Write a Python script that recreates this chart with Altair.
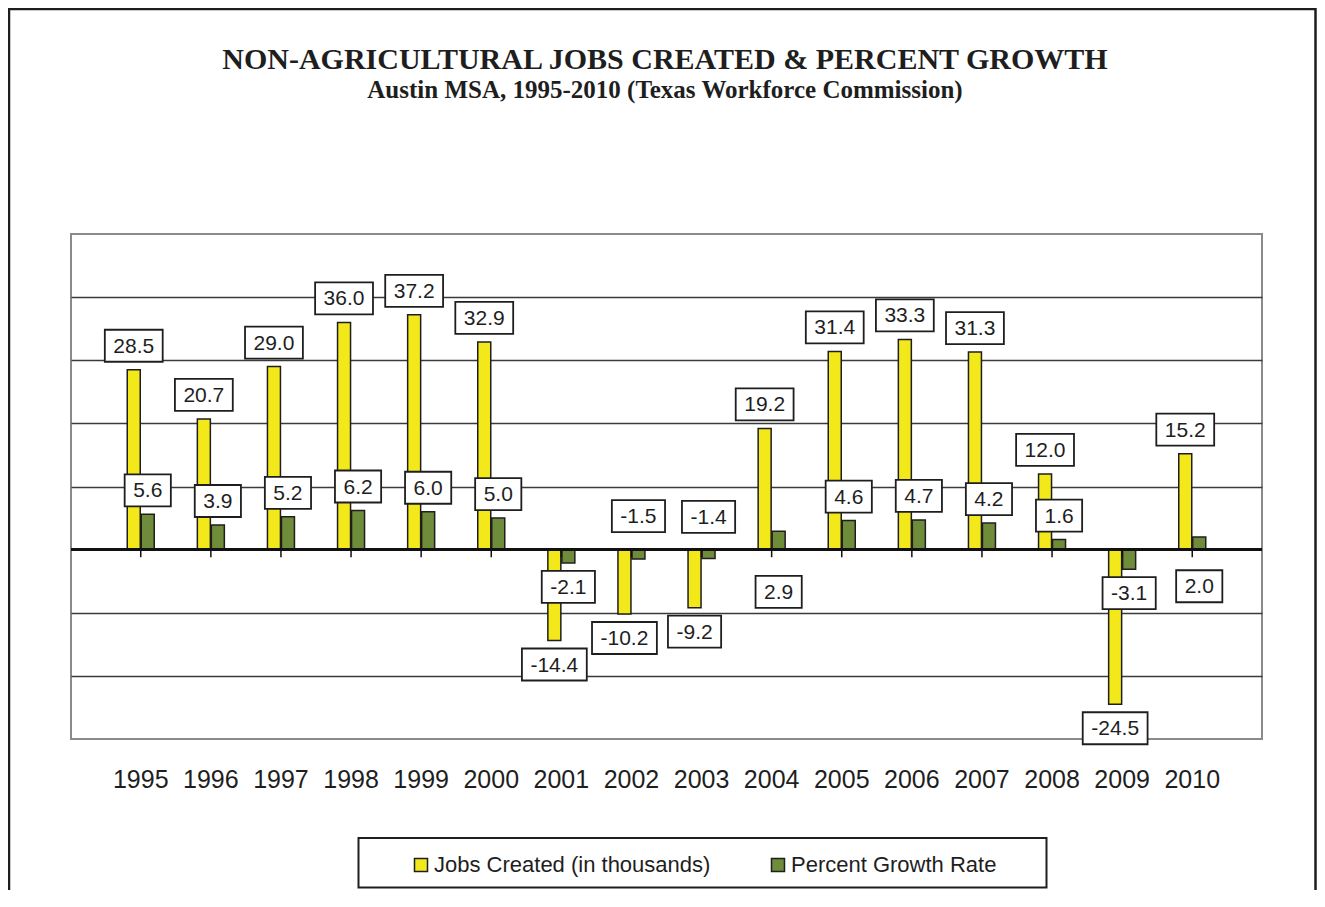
import altair as alt
import pandas as pd

years = ["1995", "1996", "1997", "1998", "1999", "2000", "2001", "2002",
         "2003", "2004", "2005", "2006", "2007", "2008", "2009", "2010"]
jobs_created = [28.5, 20.7, 29.0, 36.0, 37.2, 32.9, -14.4, -10.2,
                -9.2, 19.2, 31.4, 33.3, 31.3, 12.0, -24.5, 15.2]
percent_growth = [5.6, 3.9, 5.2, 6.2, 6.0, 5.0, -2.1, -1.5,
                  -1.4, 2.9, 4.6, 4.7, 4.2, 1.6, -3.1, 2.0]
# which side of the bar the growth label sits on ("flip" = opposite side)
pct_label_side = ["normal", "normal", "normal", "normal", "normal", "normal", "normal", "flip",
                  "flip", "flip", "normal", "normal", "normal", "normal", "normal", "flip"]

JOBS = "Jobs Created (in thousands)"
PCT = "Percent Growth Rate"
title_text = "NON-AGRICULTURAL JOBS CREATED & PERCENT GROWTH"
subtitle_text = "Austin MSA, 1995-2010 (Texas Workforce Commission)"

YELLOW = "#F2E81A"
GREEN = "#6F8C3A"
INK = "#1e1e1e"

bars = pd.DataFrame({"year": years, "jobs": jobs_created, "pct": percent_growth})

labels = pd.concat([
    pd.DataFrame({"year": years, "value": jobs_created, "series": JOBS,
                  "side": ["normal"] * len(years),
                  "label": [f"{v:.1f}" for v in jobs_created]}),
    pd.DataFrame({"year": years, "value": percent_growth, "series": PCT,
                  "side": pct_label_side,
                  "label": [f"{v:.1f}" for v in percent_growth]}),
], ignore_index=True)

xscale = alt.Scale(paddingInner=0, paddingOuter=0.495)
yscale = alt.Scale(domain=[-30, 50], nice=False, zero=False)
xaxis = alt.Axis(title=None, ticks=False, domain=False, labelAngle=0,
                 labelFont="Liberation Sans", labelFontSize=25, labelColor=INK,
                 labelPadding=28, grid=False)
yaxis = alt.Axis(title=None, labels=False, ticks=False, domain=False,
                 values=[-20, -10, 10, 20, 30, 40], grid=True,
                 gridColor="#3a3a3a", gridWidth=1.6)

X = alt.X("year:N", sort=years, scale=xscale, axis=xaxis)
color_scale = alt.Scale(domain=[JOBS, PCT], range=[YELLOW, GREEN])
legend = alt.Legend(title=None, orient="none", direction="horizontal",
                    legendX=339, legendY=620, padding=0,
                    labelFont="Liberation Sans", labelFontSize=22, labelColor=INK,
                    labelLimit=600, labelOffset=2, columnPadding=56,
                    symbolType="square", symbolSize=169,
                    symbolStrokeColor=INK, symbolStrokeWidth=1.5, zindex=2)

base = alt.Chart(bars)

jobs_bars = base.transform_calculate(series=f"'{JOBS}'").mark_bar(
    width=13, xOffset=-7, stroke=INK, strokeWidth=1.5).encode(
    x=X,
    y=alt.Y("jobs:Q", scale=yscale, axis=yaxis),
    color=alt.Color("series:N", scale=color_scale, legend=legend),
)
pct_bars = base.transform_calculate(series=f"'{PCT}'").mark_bar(
    width=13, xOffset=7, stroke=INK, strokeWidth=1.5).encode(
    x=X,
    y=alt.Y("pct:Q", scale=yscale, axis=yaxis),
    color=alt.Color("series:N", scale=color_scale, legend=legend),
)

zero_line = base.mark_rule(color="#111111", strokeWidth=2).encode(y=alt.Y(datum=0))
zero_ticks = base.mark_rule(color="#111111", strokeWidth=1.5).encode(
    x=X, y=alt.Y(datum=0), y2=alt.Y2(datum=-1.2))

lab = alt.Chart(labels).transform_calculate(
    anchor="datum.side == 'flip' ? -datum.value : datum.value",
    ly="datum.anchor >= 0 ? datum.anchor + 3.8 : datum.anchor - 3.8",
    neg="indexof(datum.label, '-') == 0 ? 1 : 0",
    hw="(17 + 21 * (0.556 * (length(datum.label) - 1 - datum.neg) + 0.278 + 0.333 * datum.neg)) / 2",
    box="'M' + (-datum.hw) + ',-16H' + datum.hw + 'V16H' + (-datum.hw) + 'Z'",
)


def label_layers(series, dx):
    sub = lab.transform_filter(alt.datum.series == series)
    boxes = sub.mark_point(filled=True, fill="white", stroke=INK, strokeWidth=1.8,
                           opacity=1, size=4, xOffset=dx).encode(
        x=X, y=alt.Y("ly:Q", scale=yscale, axis=yaxis),
        shape=alt.Shape("box:N", scale=None))
    texts = sub.mark_text(font="Liberation Sans", fontSize=21, color=INK,
                          align="center", baseline="middle", xOffset=dx, yOffset=1).encode(
        x=X, y=alt.Y("ly:Q", scale=yscale, axis=yaxis), text="label:N")
    return boxes, texts


jb, jt = label_layers(JOBS, -7)
pb, pt = label_layers(PCT, 7)

one = alt.Data(values=[{"k": 1}])
outer_border = alt.Chart(one).mark_rect(fill="white", fillOpacity=0, stroke=INK,
                                        strokeWidth=2.5).encode(
    x=alt.value(-62), x2=alt.value(1244.5), y=alt.value(-225), y2=alt.value(720))
legend_box = alt.Chart(one).mark_rect(fill="white", stroke=INK, strokeWidth=2).encode(
    x=alt.value(287.5), x2=alt.value(975.5), y=alt.value(604), y2=alt.value(653.5))
title_mark = alt.Chart(one).mark_text(font="Liberation Serif", fontWeight="bold",
                                      fontSize=30, color=INK, align="center",
                                      baseline="middle").encode(
    x=alt.value(594), y=alt.value(-174), text=alt.value(title_text))
subtitle_mark = alt.Chart(one).mark_text(font="Liberation Serif", fontWeight="bold",
                                         fontSize=25, color=INK, align="center",
                                         baseline="middle").encode(
    x=alt.value(594), y=alt.value(-144), text=alt.value(subtitle_text))

chart = alt.layer(
    outer_border, jobs_bars, pct_bars, zero_line, zero_ticks,
    jb, pb, jt, pt, legend_box, title_mark, subtitle_mark,
).properties(
    width=1191, height=505,
    padding={"left": 63, "top": 226, "right": 55, "bottom": 151},
    autosize=alt.AutoSizeParams(type="none"),
    background="white",
).configure_view(
    stroke="#8a8a8a", strokeWidth=2
)

chart.save("out.html", embed_options={"renderer": "svg", "actions": False})
